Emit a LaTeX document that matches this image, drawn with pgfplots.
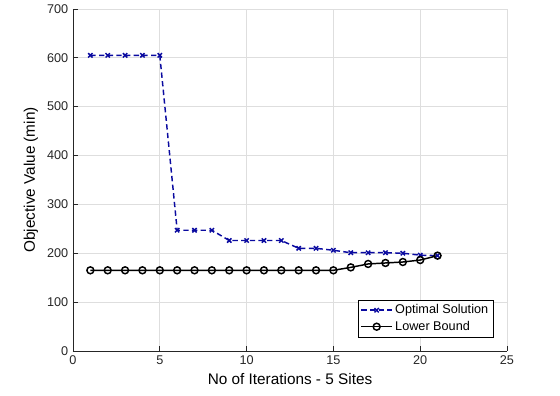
\documentclass[border=0pt]{standalone}
\usepackage{pgfplots}
\pgfplotsset{compat=1.18}
\usepackage{fontspec}
\setmainfont{Liberation Sans}
\definecolor{optblue}{RGB}{10,10,160}
\definecolor{axgray}{RGB}{38,38,38}
\definecolor{gridgray}{RGB}{222,222,222}
\begin{document}
\begin{tikzpicture}
\begin{axis}[
    scale only axis,
    width=325.5pt, height=256.5pt,
    xmin=0, xmax=25, ymin=0, ymax=700,
    xtick={0,5,...,25}, ytick={0,100,...,700},
    axis x line*=bottom, axis y line*=left,
    axis line style={-, axgray, line width=0.6pt},
    tick align=inside,
    major tick length=3.5pt,
    tick style={axgray, line width=0.6pt},
    grid=major,
    major grid style={gridgray, line width=0.6pt},
    tick label style={font=\fontsize{9.5}{11}\selectfont, text=axgray},
    label style={font=\fontsize{11.5}{13}\selectfont},
    xlabel={No of Iterations - 5 Sites},
    ylabel={Objective Value (min)},
    /pgf/number format/assume math mode=true,
    legend style={at={(0.968,0.04)}, anchor=south east, draw=black,
        font=\fontsize{9.5}{11}\selectfont, cells={anchor=west},
        inner sep=1.5pt, row sep=0pt},
    legend image code/.code={
        \draw[mark repeat=2, mark phase=2]
        plot coordinates {(0cm,0cm) (0.4cm,0cm) (0.8cm,0cm)};},
]
\addplot[optblue, dash pattern=on 4pt off 2.5pt, line width=1.1pt, mark=x, mark size=2.3pt,
    mark options={solid}] coordinates {
    (1,605) (2,605) (3,605) (4,605) (5,605) (6,247) (7,247) (8,247)
    (9,226) (10,226) (11,226) (12,226) (13,210) (14,210) (15,206)
    (16,201) (17,201) (18,201) (19,200) (20,196) (21,195)
};
\addplot[black, line width=1.1pt, mark=o, mark size=2.6pt] coordinates {
    (1,165) (2,165) (3,165) (4,165) (5,165) (6,165) (7,165) (8,165)
    (9,165) (10,165) (11,165) (12,165) (13,165) (14,165) (15,165)
    (16,171) (17,178) (18,180) (19,182) (20,186) (21,195)
};
\legend{Optimal Solution, Lower Bound}
\end{axis}
\path ([xshift=-54.75pt, yshift=-33.75pt]current axis.south west)
    rectangle ([xshift=39.75pt, yshift=4.5pt]current axis.north east);
\end{tikzpicture}
\end{document}
